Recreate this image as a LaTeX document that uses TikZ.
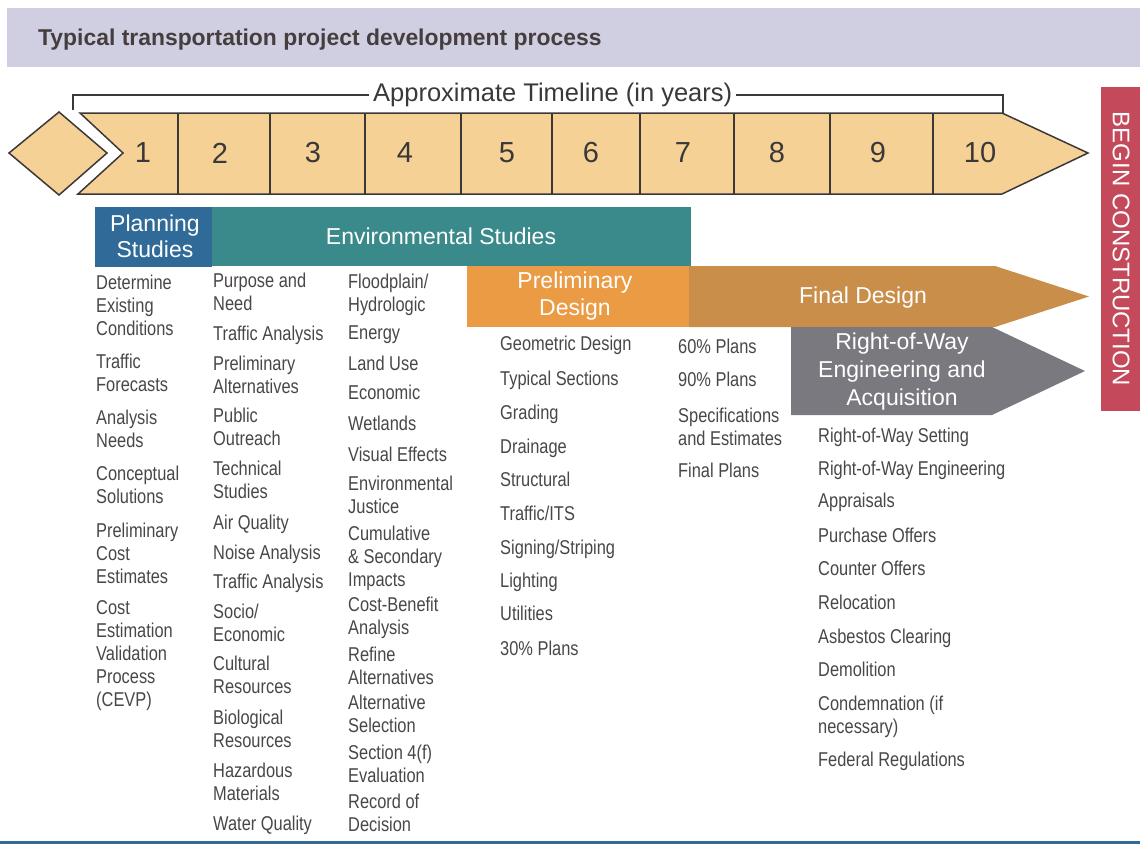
\documentclass[tikz,border=0pt]{standalone}
\usepackage{fontspec}
\setmainfont{Liberation Sans}
\newfontfamily\listfont[FakeStretch=0.82]{Liberation Sans}
\usepackage{tikz}
\usetikzlibrary{positioning}
\definecolor{titlebg}{HTML}{D0CFE1}
\definecolor{titletxt}{HTML}{463E3E}
\definecolor{tlfill}{HTML}{F6D196}
\definecolor{tlline}{HTML}{3C3838}
\definecolor{yeartxt}{HTML}{3A3838}
\definecolor{planblue}{HTML}{2F6A98}
\definecolor{envteal}{HTML}{3A898B}
\definecolor{prelorange}{HTML}{EB9B44}
\definecolor{fintan}{HTML}{C98E4A}
\definecolor{rowgray}{HTML}{7A797F}
\definecolor{constred}{HTML}{C44A5B}
\definecolor{txtgray}{HTML}{4A4646}

\begin{document}
\begin{tikzpicture}[x=1pt, y=-1pt,
  hdr/.style={text=white, align=center, inner sep=0, font=\fontsize{23}{27}\selectfont},
  item/.style={anchor=north west, align=left, inner sep=0, text=txtgray, font=\listfont\fontsize{20}{23}\selectfont},
  yearlbl/.style={text=yeartxt, inner sep=0, font=\fontsize{29}{34}\selectfont}]
\useasboundingbox (0,0) rectangle (1140,844);

\fill[titlebg] (7,8) rectangle (1140,67);
\node (ttl) [anchor=base west, inner sep=0, text=titletxt, font=\bfseries\fontsize{22.9}{26}\selectfont] at (38,45) {Typical transportation project development process};

\node (tl) [anchor=west, inner sep=4, text=yeartxt, font=\fontsize{25.5}{30}\selectfont] at (369,95) {Approximate Timeline (in years)};
\coordinate (bl) at (73,110);
\coordinate (br) at (1003,113);
\draw[tlline, line width=1.5] (bl) |- (tl.west);
\draw[tlline, line width=1.5] (tl.east) -| (br);

\filldraw[fill=tlfill, draw=tlline, line width=1.5, line join=miter] (9,153) -- (59,112) -- (107,153) -- (59,195) -- cycle;
\filldraw[fill=tlfill, draw=tlline, line width=1.5, line join=miter] (80,113) -- (1002,113) -- (1088,153) -- (1002,194) -- (78,194) -- (123,153) -- cycle;
\foreach \xx in {178,270,365,461,552,640,734,830,933}
  \draw[tlline, line width=2] (\xx,113) -- (\xx,194);
\foreach \xx [count=\n] in {143,220,313,405,507,591,683,777,878,980}
  \node (yr\n) [yearlbl] at (\xx,153) {\n};

\fill[constred] (1101,87) rectangle (1140,411);
\node (bc) [text=white, rotate=-90, inner sep=0, font=\fontsize{24}{28}\selectfont] at (1121,249) {BEGIN CONSTRUCTION};

\fill[planblue] (95,207) rectangle (212,267);
\fill[envteal] (212,207) rectangle (691,266);
\fill[prelorange] (467,266) rectangle (689,327);
\fill[fintan] (689,266) -- (995,266) -- (1089,296.5) -- (995,327) -- (689,327) -- cycle;
\fill[rowgray] (791,327) -- (992,327) -- (1085,371) -- (992,415) -- (791,415) -- cycle;

\node (plan) [hdr, font=\fontsize{23}{26}\selectfont] at (155,236) {Planning\\Studies};
\node (env) [hdr] at (441,236) {Environmental Studies};
\node (prel) [hdr] at (575,296) {Preliminary\\Design};
\node (fin) [hdr] at (863,298) {Final Design};
\node (row) [hdr, font=\fontsize{23}{28}\selectfont] at (902,372) {Right-of-Way\\Engineering and\\Acquisition};

\foreach \yy/\txt [count=\i] in {282/{Determine\\Existing\\Conditions}, 361/{Traffic\\Forecasts},
    417/{Analysis\\Needs}, 473/{Conceptual\\Solutions}, 530/{Preliminary\\Cost\\Estimates},
    608/{Cost\\Estimation\\Validation\\Process\\(CEVP)}}
  \node (plan\i) [item] at (96,\yy-7.5) {\txt};

\foreach \yy/\txt [count=\i] in {280/{Purpose and\\Need}, 333/{Traffic Analysis},
    363/{Preliminary\\Alternatives}, 415/{Public\\Outreach}, 468/{Technical\\Studies},
    522/{Air Quality}, 552/{Noise Analysis}, 581/{Traffic Analysis}, 611/{Socio/\\Economic},
    663/{Cultural\\Resources}, 717/{Biological\\Resources}, 770/{Hazardous\\Materials},
    823/{Water Quality}}
  \node (envl\i) [item] at (213,\yy-7.5) {\txt};

\foreach \yy/\txt [count=\i] in {281/{Floodplain/\\Hydrologic}, 333/{Energy}, 363/{Land Use},
    392/{Economic}, 423/{Wetlands}, 454/{Visual Effects}, 483/{Environmental\\Justice},
    533/{Cumulative\\\& Secondary\\Impacts}, 604/{Cost-Benefit\\Analysis},
    654/{Refine\\Alternatives}, 702/{Alternative\\Selection}, 752/{Section 4(f)\\Evaluation},
    801/{Record of\\Decision}}
  \node (envr\i) [item] at (348,\yy-7.5) {\txt};

\foreach \yy/\txt [count=\i] in {343/{Geometric Design}, 378/{Typical Sections}, 412/{Grading},
    446/{Drainage}, 479/{Structural}, 513/{Traffic/ITS}, 547/{Signing/Striping},
    580/{Lighting}, 613/{Utilities}, 648/{30\% Plans}}
  \node (prel\i) [item] at (500,\yy-7.5) {\txt};

\foreach \yy/\txt [count=\i] in {346/{60\% Plans}, 379/{90\% Plans},
    415/{Specifications\\and Estimates}, 470/{Final Plans}}
  \node (fin\i) [item] at (678,\yy-7.5) {\txt};

\foreach \yy/\txt [count=\i] in {435/{Right-of-Way Setting}, 468/{Right-of-Way Engineering},
    500/{Appraisals}, 535/{Purchase Offers}, 568/{Counter Offers}, 602/{Relocation},
    636/{Asbestos Clearing}, 669/{Demolition}, 703/{Condemnation (if\\necessary)},
    759/{Federal Regulations}}
  \node (row\i) [item] at (818,\yy-7.5) {\txt};

\draw[planblue, line width=3] (0,842) -- (1140,842);
\end{tikzpicture}
\end{document}
